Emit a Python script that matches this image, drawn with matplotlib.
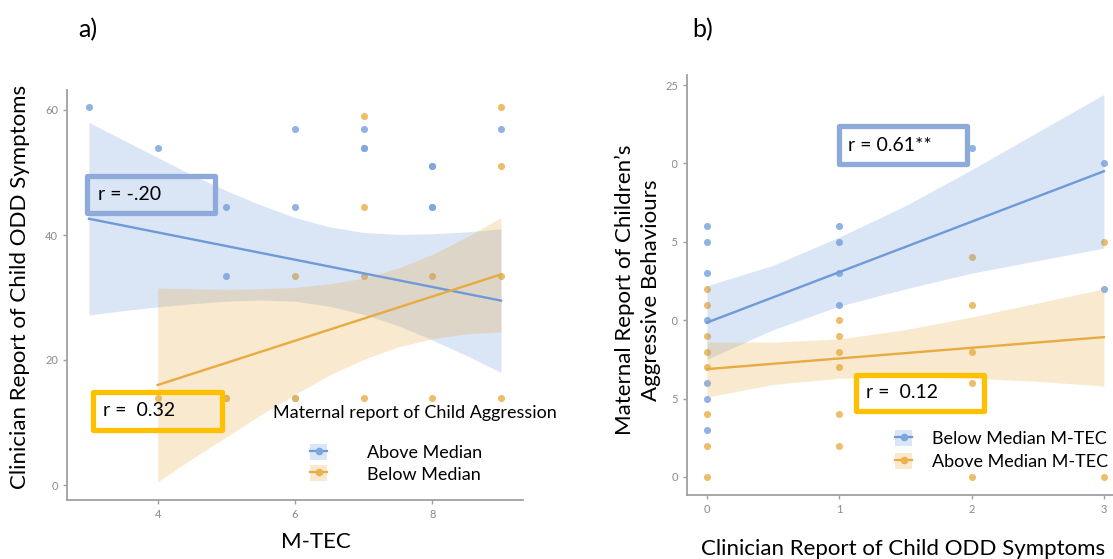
import matplotlib
matplotlib.use("Agg")
import matplotlib.pyplot as plt
from matplotlib.lines import Line2D
from matplotlib.patches import Patch, Rectangle

plt.rcParams["font.family"] = ["Lato", "DejaVu Sans"]

# Palette
BLUE = "#7ea6df"
BLUE_LINE = "#6e9ad8"
ORANGE = "#ecb24f"
ORANGE_LINE = "#e8ab42"
BOX_BLUE = "#8eaadb"
BOX_GOLD = "#ffc000"
AXIS = "#a0a0a0"
TICK = "#8a8a8a"

# ---- panel a: M-TEC vs clinician ODD ----
a_above_x = [3, 4, 5, 5, 5, 6, 6, 7, 7, 7, 8, 8, 8, 8, 9, 6]
a_above_y = [60.5, 54, 44.5, 33.5, 14, 57, 44.5, 57, 54, 54, 51, 51, 44.5, 44.5, 57, 14]
a_below_x = [4, 5, 6, 7, 8, 9, 6, 7, 8, 9, 7, 7, 9, 9]
a_below_y = [14, 14, 14, 14, 14, 14, 33.5, 33.5, 33.5, 33.5, 59, 44.5, 60.5, 51]

a_above_fit_x = [3, 9]
a_above_fit_y = [42.6, 29.5]
a_below_fit_x = [4, 9]
a_below_fit_y = [16.0, 33.7]

a_above_band_x = [3, 3.5, 4, 4.5, 5, 5.5, 6, 6.5, 7, 7.5, 8, 8.5, 9]
a_above_band_hi = [58.0, 55.2, 52.4, 49.6, 47.1, 44.8, 42.8, 41.3, 40.4, 40.1, 40.2, 40.5, 41.0]
a_above_band_lo = [27.2, 27.9, 28.5, 29.0, 29.4, 29.6, 29.4, 28.6, 27.3, 25.5, 23.2, 20.7, 18.0]
a_below_band_x = [4, 4.5, 5, 5.5, 6, 6.5, 7, 7.5, 8, 8.5, 9]
a_below_band_hi = [31.5, 31.4, 31.3, 31.4, 31.6, 32.2, 33.1, 34.7, 36.9, 39.7, 42.8]
a_below_band_lo = [0.5, 4.2, 7.7, 11.2, 14.5, 17.6, 20.1, 22.1, 23.4, 24.2, 24.5]

a_xticks = [4, 6, 8]
a_yticks = [0, 20, 40, 60]

# ---- panel b: clinician ODD vs maternal aggression ----
b_below_x = [0, 0, 0, 0, 0, 0, 0, 1, 1, 1, 1, 2, 3, 3]
b_below_y = [16, 15, 13, 10, 6, 5, 3, 16, 15, 13, 11, 21, 20, 12]
b_above_x = [0, 0, 0, 0, 0, 0, 0, 0, 1, 1, 1, 1, 1, 1, 2, 2, 2, 2, 2, 3, 3]
b_above_y = [12, 11, 9, 8, 7, 4, 2, 0, 10, 9, 8, 7, 4, 2, 14, 11, 8, 6, 0, 15, 0]

b_below_fit_x = [0, 3]
b_below_fit_y = [9.85, 19.5]
b_above_fit_x = [0, 3]
b_above_fit_y = [6.88, 8.92]

b_band_x = [0, 0.5, 1, 1.5, 2, 2.5, 3]
b_below_band_hi = [12.2, 13.5, 15.3, 17.3, 19.6, 22.0, 24.4]
b_below_band_lo = [7.5, 9.4, 10.9, 12.0, 13.0, 13.8, 14.6]
b_above_band_hi = [8.6, 8.6, 8.8, 9.4, 10.2, 11.1, 12.0]
b_above_band_lo = [5.1, 5.9, 6.3, 6.4, 6.3, 6.1, 5.8]

b_xticks = [0, 1, 2, 3]
b_yticks = [0, 5, 10, 15, 20, 25]

W, H = 1113, 559
fig = plt.figure(figsize=(W / 100, H / 100), dpi=100)


def fx(x, y):
    return x / W, 1 - y / H


def style(ax):
    for s in ("top", "right"):
        ax.spines[s].set_visible(False)
    for s in ("left", "bottom"):
        ax.spines[s].set_color(AXIS)
        ax.spines[s].set_linewidth(1.3)
    ax.tick_params(colors=AXIS, labelcolor=TICK, labelsize=8, length=3, width=1)


def group(ax, px, py, fit_x, fit_y, bx, lo, hi, pc, lc):
    ax.scatter(px, py, s=26, color=pc, alpha=0.85, lw=0, zorder=1)
    ax.fill_between(bx, lo, hi, color=lc, alpha=0.25, lw=0, zorder=2)
    ax.plot(fit_x, fit_y, color=lc, lw=1.7, zorder=3)


def rbox(x0, y0, x1, y1, ec):
    fig.add_artist(Rectangle(fx(x0, y1), (x1 - x0) / W, (y1 - y0) / H,
                             transform=fig.transFigure, fill=False, ec=ec,
                             lw=3.8, joinstyle="round", zorder=5))


def keys(ax, labels, anchor, pad, spacing):
    handles = []
    for c, lc in ((BLUE, BLUE_LINE), (ORANGE, ORANGE_LINE)):
        handles.append((Patch(fc=lc, alpha=0.25, ec="none"),
                        Line2D([], [], color=lc, lw=1.6, marker="o", ms=4.5, mfc=c, mec=c)))
    ax.legend(handles, labels, loc="upper left", bbox_to_anchor=fx(*anchor),
              bbox_transform=fig.transFigure, frameon=False, fontsize=13,
              handlelength=0.95, handleheight=1.0, handletextpad=pad,
              labelspacing=spacing, borderpad=0, borderaxespad=0, numpoints=1)


# ---- a ----
ax_a = fig.add_axes([67 / W, 1 - 500 / H, 456 / W, 410 / H])
style(ax_a)
group(ax_a, a_above_x, a_above_y, a_above_fit_x, a_above_fit_y,
      a_above_band_x, a_above_band_lo, a_above_band_hi, BLUE, BLUE_LINE)
group(ax_a, a_below_x, a_below_y, a_below_fit_x, a_below_fit_y,
      a_below_band_x, a_below_band_lo, a_below_band_hi, ORANGE, ORANGE_LINE)
ax_a.set_xlim(2.68, 9.32)
ax_a.set_ylim(-2.4, 63.2)
ax_a.set_xticks(a_xticks)
ax_a.set_yticks(a_yticks)
keys(ax_a, ["Above Median", "Below Median"], (310, 444), 2.2, 0.22)
fig.text(*fx(273, 413), "Maternal report of Child Aggression", fontsize=13,
         ha="left", va="center")

# ---- b ----
ax_b = fig.add_axes([687 / W, 1 - 495 / H, 426 / W, 420 / H])
style(ax_b)
group(ax_b, b_below_x, b_below_y, b_below_fit_x, b_below_fit_y,
      b_band_x, b_below_band_lo, b_below_band_hi, BLUE, BLUE_LINE)
group(ax_b, b_above_x, b_above_y, b_above_fit_x, b_above_fit_y,
      b_band_x, b_above_band_lo, b_above_band_hi, ORANGE, ORANGE_LINE)
ax_b.set_xlim(-0.151, 3.069)
ax_b.set_ylim(-1.15, 25.64)
ax_b.set_xticks(b_xticks)
ax_b.set_yticks(b_yticks)
keys(ax_b, ["Below Median M-TEC", "Above Median M-TEC"], (895, 430), 1.1, 0.3)

# ---- annotation boxes ----
rbox(86.5, 175.5, 214.5, 212.5, BOX_BLUE)
rbox(92.5, 391.5, 221.5, 429.5, BOX_GOLD)
rbox(838.5, 125.5, 966.5, 163.5, BOX_BLUE)
rbox(855.5, 374.5, 983.5, 410.5, BOX_GOLD)
for x, y, s in ((98, 194, "r = -.20"), (103, 411, "r =  0.32"),
                (848, 146, "r = 0.61**"), (866, 393, "r =  0.12")):
    fig.text(*fx(x, y), s, fontsize=14, ha="left", va="center", zorder=6)

# ---- labels ----
fig.text(*fx(78, 30), "a)", fontsize=18, ha="left", va="center")
fig.text(*fx(692, 30), "b)", fontsize=18, ha="left", va="center")
fig.text(*fx(20, 287), "Clinician Report of Child ODD Symptoms", fontsize=16,
         rotation=90, ha="center", va="center")
fig.text(*fx(316, 542), "M-TEC", fontsize=16, ha="center", va="center")
# the pasted label box hides the tens digits of the y ticks, as in the source
fig.text(*fx(638, 290), "Maternal Report of Children\u2019s\nAggressive Behaviours",
         fontsize=16, rotation=90, ha="center", va="center", multialignment="center",
         linespacing=1.35, bbox=dict(fc="white", ec="none", pad=8), zorder=4)
fig.text(*fx(903, 549), "Clinician Report of Child ODD Symptoms", fontsize=16,
         ha="center", va="center")

fig.savefig("out.png", dpi=100, facecolor="white")
